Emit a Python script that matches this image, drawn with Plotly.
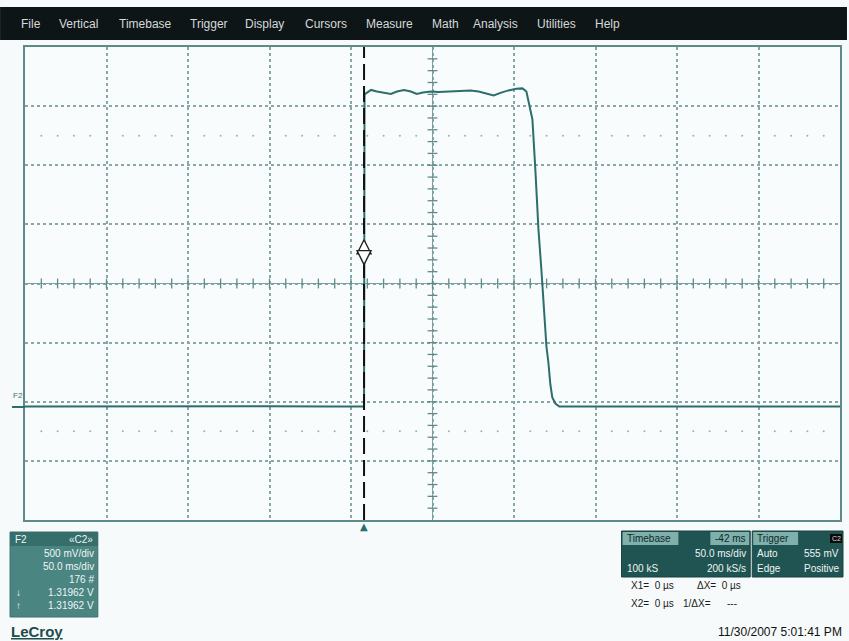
import plotly.graph_objects as go

# ---------------- data ----------------
time_ms = [-208, -160, -110, -60, -20, 0, 0.3, 1.8, 4.3, 7.9, 12.2, 16.5, 20.2, 24.5, 28.7, 32.4,
           36.1, 41.0, 45.8, 50.7, 55.6, 60.5, 65.4, 70.3, 75.2, 79.5, 83.7, 88.6, 93.5, 97.2,
           99.6, 101.5, 103.3, 105.1, 107.0, 108.8, 110.7, 111.9, 113.1, 114.3, 115.5, 117.4,
           119.8, 150, 200, 250, 292]
volts = [-1.04, -1.038, -1.04, -1.039, -1.04, -1.04, 1.60, 1.615, 1.637, 1.624, 1.612, 1.603,
         1.624, 1.637, 1.624, 1.603, 1.615, 1.624, 1.62, 1.624, 1.629, 1.629, 1.633, 1.624,
         1.607, 1.59, 1.612, 1.633, 1.646, 1.65, 1.624, 1.514, 1.387, 0.964, 0.457, 0.118,
         -0.305, -0.533, -0.668, -0.854, -0.964, -1.015, -1.04, -1.04, -1.038, -1.04, -1.04]

menu_items = ["File", "Vertical", "Timebase", "Trigger", "Display", "Cursors", "Measure",
              "Math", "Analysis", "Utilities", "Help"]
menu_x = [19, 57, 117, 188, 244, 304, 365, 431, 472, 536, 594]

f2_lines = ["500 mV/div", "50.0 ms/div", "176 #", "1.31962 V", "1.31962 V"]

time_per_div = 50.0
volt_per_div = 0.5
t_center = 42.0
x_range = [t_center - 5 * time_per_div, t_center + 5 * time_per_div]
y_range = [-4 * volt_per_div, 4 * volt_per_div]
trigger_t = 0.0

# ---------------- geometry helpers ----------------
L, R, T, B = 25, 842, 47, 520
W, H = 849, 641


def px(x):
    return (x - L) / (R - L)


def py(y):
    return (B - y) / (B - T)


TRACE = "#2c6e6c"
GRIDC = "#8aa6a6"
TICKC = "#5f8a8a"

fig = go.Figure()

# minor dot rows at +/-2.5 div
dot_t, dot_v = [], []
for row in (2.5, -2.5):
    for k in range(50):
        if k % 5 == 0:
            continue
        dot_t.append(x_range[0] + k * time_per_div / 5)
        dot_v.append(row * volt_per_div)
fig.add_trace(go.Scatter(x=dot_t, y=dot_v, mode="markers",
                         marker=dict(size=2, color="#9ab2b2"), hoverinfo="skip"))

# center cross with ticks
fig.add_trace(go.Scatter(x=x_range, y=[0, 0], mode="lines",
                         line=dict(color="#7fa0a0", width=1), hoverinfo="skip"))
fig.add_trace(go.Scatter(x=[t_center, t_center], y=y_range, mode="lines",
                         line=dict(color="#7fa0a0", width=1), hoverinfo="skip"))
tick_t = [x_range[0] + k * time_per_div / 5 for k in range(1, 50)]
fig.add_trace(go.Scatter(x=tick_t, y=[0] * len(tick_t), mode="markers",
                         marker=dict(symbol="line-ns-open", size=7, color=TICKC,
                                     line=dict(color=TICKC, width=1.3)),
                         hoverinfo="skip"))
tick_v = [y_range[0] + k * volt_per_div / 5 for k in range(1, 40)]
fig.add_trace(go.Scatter(x=[t_center] * len(tick_v), y=tick_v, mode="markers",
                         marker=dict(symbol="line-ew-open", size=7, color=TICKC,
                                     line=dict(color=TICKC, width=1.3)),
                         hoverinfo="skip"))

# waveform
fig.add_trace(go.Scatter(x=time_ms, y=volts, mode="lines",
                         line=dict(color=TRACE, width=2), hoverinfo="skip"))

# trigger cursor (drawn over the trace)
fig.add_trace(go.Scatter(x=[trigger_t, trigger_t], y=y_range, mode="lines",
                         line=dict(color="#111111", width=2, dash="16px,6px"),
                         hoverinfo="skip"))

# cursor glyph
fig.add_trace(go.Scatter(x=[trigger_t, trigger_t], y=[0.37, 0.16], mode="markers",
                         marker=dict(symbol=["arrow-up", "arrow-down"], size=14,
                                     color="white", line=dict(color="#222", width=1.4)),
                         hoverinfo="skip"))

shapes = []
ann = []

# trigger position marker below the grid
ann.append(dict(x=trigger_t, xref="x", y=py(526), yref="paper", text="▲", showarrow=False,
                xanchor="center", yanchor="middle",
                font=dict(family="DejaVu Sans", size=10, color=TRACE)))

# menu bar
shapes.append(dict(type="rect", xref="paper", yref="paper", x0=px(0), x1=px(W), y0=py(40), y1=py(7),
                   fillcolor="#0e1517", line=dict(width=0), layer="below"))
for name, xm in zip(menu_items, menu_x):
    ann.append(dict(x=px(xm), y=py(24), xref="paper", yref="paper", text=name, showarrow=False,
                    xanchor="left", yanchor="middle",
                    font=dict(family="Liberation Sans, Arial", size=12, color="#d4d9d9")))

# F2 label at left
ann.append(dict(x=px(18), y=py(396), xref="paper", yref="paper", text="F2", showarrow=False,
                xanchor="center", yanchor="middle",
                font=dict(family="Liberation Sans, Arial", size=8, color="#3b7573")))
shapes.append(dict(type="line", xref="paper", yref="paper", x0=px(12), x1=px(25), y0=py(407), y1=py(407),
                   line=dict(color=TRACE, width=2)))

# F2 box
shapes.append(dict(type="rect", xref="paper", yref="paper", x0=px(10), x1=px(98), y0=py(617), y1=py(532),
                   fillcolor="#4a8582", line=dict(color="#3b706d", width=1)))
shapes.append(dict(type="rect", xref="paper", yref="paper", x0=px(10), x1=px(98), y0=py(546), y1=py(532),
                   fillcolor="#356e6b", line=dict(width=0)))
boxfont = dict(family="Liberation Sans, Arial", size=10, color="#eef5f4")
ann.append(dict(x=px(13), y=py(539), xref="paper", yref="paper", text="F2", showarrow=False,
                xanchor="left", yanchor="middle", font=boxfont))
ann.append(dict(x=px(95), y=py(539), xref="paper", yref="paper", text="«C2»", showarrow=False,
                xanchor="right", yanchor="middle", font=boxfont))
for i, line in enumerate(f2_lines):
    ann.append(dict(x=px(96), y=py(553 + 13 * i), xref="paper", yref="paper", text=line, showarrow=False,
                    xanchor="right", yanchor="middle", font=boxfont))
ann.append(dict(x=px(14), y=py(592), xref="paper", yref="paper", text="↓", showarrow=False,
                xanchor="left", yanchor="middle", font=boxfont))
ann.append(dict(x=px(14), y=py(605), xref="paper", yref="paper", text="↑", showarrow=False,
                xanchor="left", yanchor="middle", font=boxfont))

# LeCroy logo
ann.append(dict(x=px(9), y=py(631), xref="paper", yref="paper", text="<b><u>LeCroy</u></b>", showarrow=False,
                xanchor="left", yanchor="middle",
                font=dict(family="Liberation Sans, Arial", size=15, color="#1d4d4b")))

# Timebase box
shapes.append(dict(type="rect", xref="paper", yref="paper", x0=px(623), x1=px(752), y0=py(577), y1=py(531),
                   fillcolor="#1f5452", line=dict(color="#174341", width=1)))
shapes.append(dict(type="rect", xref="paper", yref="paper", x0=px(624), x1=px(680), y0=py(545), y1=py(532),
                   fillcolor="#7fb0ab", line=dict(width=0)))
shapes.append(dict(type="rect", xref="paper", yref="paper", x0=px(712), x1=px(751), y0=py(545), y1=py(532),
                   fillcolor="#7fb0ab", line=dict(width=0)))
# Trigger box
shapes.append(dict(type="rect", xref="paper", yref="paper", x0=px(754), x1=px(845), y0=py(577), y1=py(531),
                   fillcolor="#1f5452", line=dict(color="#174341", width=1)))
shapes.append(dict(type="rect", xref="paper", yref="paper", x0=px(755), x1=px(800), y0=py(545), y1=py(532),
                   fillcolor="#7fb0ab", line=dict(width=0)))
shapes.append(dict(type="rect", xref="paper", yref="paper", x0=px(832), x1=px(844), y0=py(543), y1=py(534),
                   fillcolor="#0a0a0a", line=dict(width=0)))

dark = dict(family="Liberation Sans, Arial", size=10, color="#0e2a29")
light = dict(family="Liberation Sans, Arial", size=10, color="#eef5f4")


def put(x, y, text, font, anchor="left"):
    ann.append(dict(x=px(x), y=py(y), xref="paper", yref="paper", text=text, showarrow=False,
                    xanchor=anchor, yanchor="middle", font=font))


put(626, 538, "Timebase", dark)
put(750, 538, "-42 ms", dark, "right")
put(750, 553, "50.0 ms/div", light, "right")
put(626, 568, "100 kS", light)
put(750, 568, "200 kS/s", light, "right")
put(757, 538, "Trigger", dark)
put(838, 538, "C2", dict(family="Liberation Sans, Arial", size=7, color="#dddddd"), "center")
put(757, 553, "Auto", light)
put(843, 553, "555 mV", light, "right")
put(757, 568, "Edge", light)
put(843, 568, "Positive", light, "right")

txt = dict(family="Liberation Sans, Arial", size=10, color="#1a1a1a")
put(630, 585, "X1=  0 µs", txt)
put(697, 585, "ΔX=  0 µs", txt)
put(630, 603, "X2=  0 µs", txt)
put(683, 603, "1/ΔX=", txt)
put(727, 603, "---", txt)
put(846, 632, "11/30/2007 5:01:41 PM", dict(family="Liberation Sans, Arial", size=12, color="#111111"), "right")

fig.update_layout(
    width=W, height=H,
    margin=dict(l=L, r=W - R, t=T, b=H - B, pad=0),
    paper_bgcolor="#f6fafa",
    plot_bgcolor="#f8fcfc",
    showlegend=False,
    shapes=shapes,
    annotations=ann,
    xaxis=dict(range=x_range, tick0=t_center, dtick=time_per_div, showgrid=True,
               gridcolor=GRIDC, griddash="dot", gridwidth=1.5, showticklabels=False, ticks="",
               zeroline=False, showline=True, linecolor="#5e8a8a", linewidth=2, mirror=True,
               fixedrange=True),
    yaxis=dict(range=y_range, tick0=0, dtick=volt_per_div, showgrid=True,
               gridcolor=GRIDC, griddash="dot", gridwidth=1.5, showticklabels=False, ticks="",
               zeroline=False, showline=True, linecolor="#5e8a8a", linewidth=2, mirror=True,
               fixedrange=True),
)

fig.write_html("out.html")
